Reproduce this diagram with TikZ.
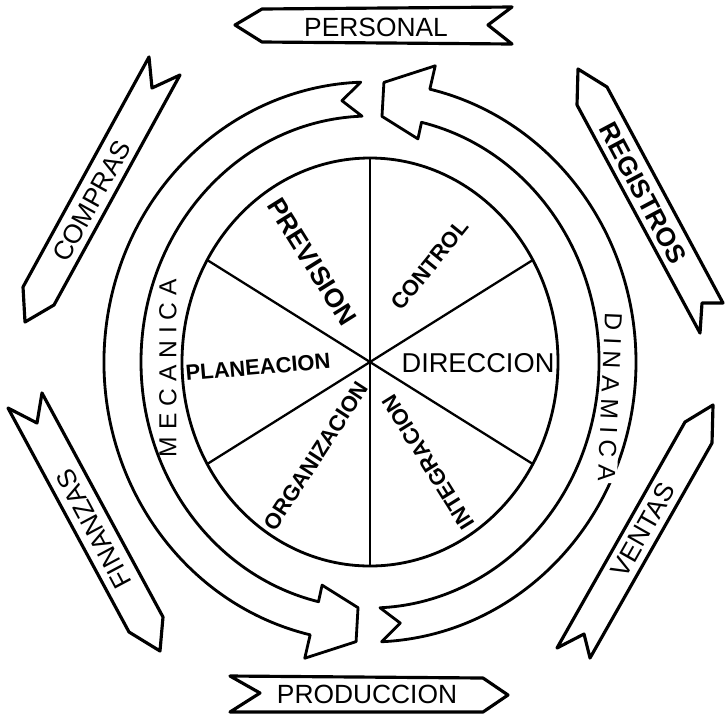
\documentclass[tikz,border=0pt]{standalone}
\usepackage{fontspec}
\setmainfont{Liberation Sans}
\newcommand\sectorfont{\bfseries\fontsize{12.5}{12.5}\selectfont}
\newcommand\bannerfont{\fontsize{15}{15}\selectfont}
\newcommand\ringfont{\fontsize{14}{14}\selectfont\addfontfeature{LetterSpace=28}}

\begin{document}
\begin{tikzpicture}[x=0.2mm,y=-0.2mm,line cap=round,line join=round,
  outline/.style={line width=1.6pt},
  spoke/.style={line width=1.3pt},
  banner/.style={line width=1.8pt},
  word/.style={font=\bannerfont,inner sep=0pt},
  sector/.style={font=\sectorfont,inner sep=0pt}]
  \useasboundingbox (0,0) rectangle (726,715);
  % outer banners
  \draw[banner] (235,25) -- (262,9) -- (512,7) -- (488,25) -- (512,44) -- (262,42) -- cycle;
  \draw[banner] (230,676) -- (483,678) -- (508,695) -- (483,712) -- (230,712) -- (260,693) -- cycle;
  \draw[banner] (149,57) -- (152,88) -- (180,75) -- (54,305) -- (25,322) -- (23,287) -- cycle;
  \draw[banner] (42,393) -- (37,423) -- (8,408) -- (129,632) -- (160,651) -- (163,617) -- cycle;
  \draw[banner] (578,69) -- (607,87) -- (723,303) -- (702,303) -- (700,333) -- (577,105) -- cycle;
  \draw[banner] (713,405) -- (712,443) -- (590,658) -- (584,634) -- (557,648) -- (685,422) -- cycle;
  \node[word] at (376,27) {PERSONAL};
  \node[word] at (367,694) {PRODUCCION};
  \node[word,rotate=61] at (92,201) {COMPRAS};
  \node[word,rotate=118] at (94,529) {FINANZAS};
  \node[word,font=\bfseries\bannerfont,rotate=-62] at (643,193) {REGISTROS};
  \node[word,rotate=60.5] at (643,530) {VENTAS};
  % wheel and ring arrows
  \begin{scope}[shift={(370,362)}]
    \draw[outline] (0,0) ellipse [x radius=188, y radius=204];
    \foreach \a in {30,90,150}
      \draw[spoke] (\a:188 and 204) -- (\a+180:188 and 204);
    \draw[outline] (268:266 and 280) -- (263.5:248 and 263) -- (268:229 and 246)
      arc[start angle=268, end angle=103, x radius=229, y radius=246]
      -- (103:213 and 229) -- (93:229 and 246) -- (93:266 and 280) -- (103:290 and 304)
      -- (103:266 and 280) arc[start angle=103, end angle=268, x radius=266, y radius=280] -- cycle;
    \draw[outline] (87.5:229 and 246) -- (83:248 and 263) -- (87.5:266 and 280)
      arc[start angle=87.5, end angle=-77, x radius=266, y radius=280]
      -- (-77:290 and 304) -- (-87:266 and 280) -- (-87:229 and 246) -- (-77:213 and 229)
      -- (-77:229 and 246) arc[start angle=-77, end angle=87.5, x radius=229, y radius=246] -- cycle;
  \end{scope}
  \node[sector,font=\fontsize{15.5}{15.5}\selectfont] at (478,363) {DIRECCION};
  \node[sector,rotate=5] at (258,367) {PLANEACION};
  \node[sector,font=\bfseries\fontsize{15}{15}\selectfont,rotate=-58] at (312,262) {PREVISION};
  \node[sector,rotate=51] at (430,265) {CONTROL};
  \node[sector,rotate=57] at (316,456) {ORGANIZACION};
  \node[sector,rotate=122] at (428,462) {INTEGRACION};
  \node[inner sep=1pt,font=\ringfont,rotate=90] at (168,368) {MECANICA};
  \node[inner sep=1pt,font=\ringfont,rotate=-92.5,fill=white] at (610,397) {DINAMICA};
\end{tikzpicture}
\end{document}
